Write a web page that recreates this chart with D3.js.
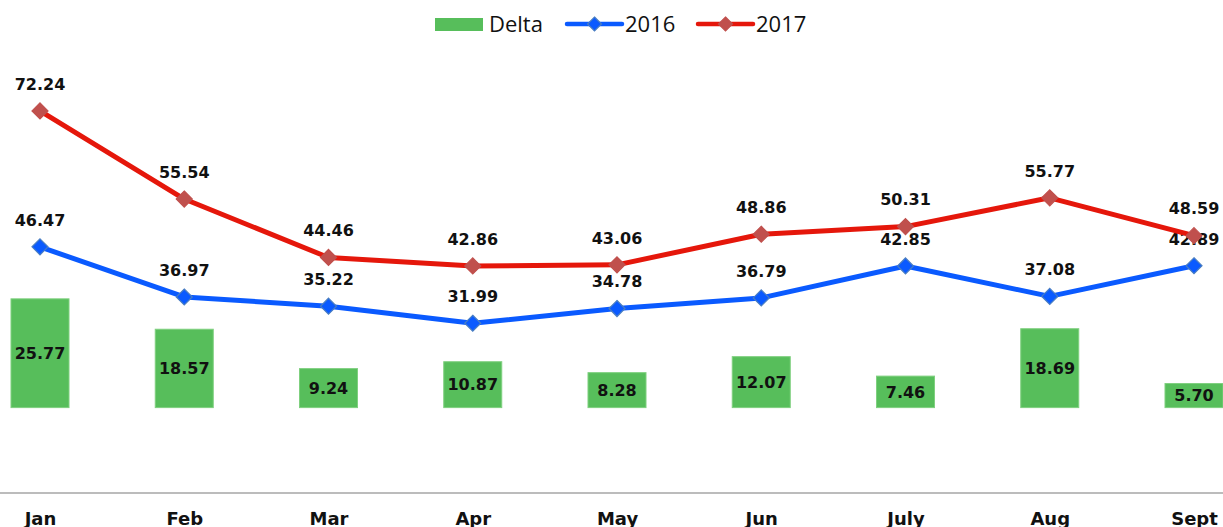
<!DOCTYPE html>
<html>
<head>
<meta charset="utf-8">
<script src="https://cdn.jsdelivr.net/npm/d3@7"></script>
<style>
  body { margin: 0; background: #fff; }
  svg { display: block; }
</style>
</head>
<body>
<div id="chart"></div>
<script>
// chart data
const months = ["Jan", "Feb", "Mar", "Apr", "May", "Jun", "July", "Aug", "Sept"];
const delta = [25.77, 18.57, 9.24, 10.87, 8.28, 12.07, 7.46, 18.69, 5.70];
const values2016 = [46.47, 36.97, 35.22, 31.99, 34.78, 36.79, 42.85, 37.08, 42.89];
const values2017 = [72.24, 55.54, 44.46, 42.86, 43.06, 48.86, 50.31, 55.77, 48.59];

const W = 1223, H = 527;
const green = "#57be5b", blue = "#0a5aff", red = "#e5170b";

const svg = d3.select("#chart").append("svg")
    .attr("width", W).attr("height", H);

// x: one point per month
const x = d3.scalePoint().domain(months).range([40, 1194]);

// primary axis for lines, secondary for the delta bars
const yLine = d3.scaleLinear().domain([0, 80]).range([492, 70]);
const yBar = d3.scaleLinear().domain([-20, 80]).range([492, 70]);

const barW = 58;
const labelFont = "'DejaVu Sans', Verdana, sans-serif";

// bars
svg.selectAll(".bar")
    .data(delta)
    .enter()
    .append("rect")
    .attr("class", "bar")
    .attr("x", (d, i) => x(months[i]) - barW / 2)
    .attr("y", d => yBar(d))
    .attr("width", barW)
    .attr("height", d => yBar(0) - yBar(d))
    .style("fill", green)
    .style("stroke", "#7fd07f")
    .style("stroke-width", 1);

svg.selectAll(".bar-label")
    .data(delta)
    .enter()
    .append("text")
    .attr("class", "bar-label")
    .text(d => d.toFixed(2))
    .attr("x", (d, i) => x(months[i]))
    .attr("y", d => (yBar(d) + yBar(0)) / 2)
    .attr("dy", "0.36em")
    .style("text-anchor", "middle")
    .style("font-family", labelFont)
    .style("font-weight", "bold")
    .style("font-size", "16px")
    .style("fill", "#111");

// category axis
const xAxis = svg.append("g")
    .attr("transform", `translate(0, ${493})`)
    .call(d3.axisBottom(x).tickSize(0).tickPadding(19));
xAxis.select(".domain").attr("d", `M0,0H${W}`).style("stroke", "#a6a6a6").style("stroke-width", 1.5);
xAxis.selectAll("text")
    .style("font-family", labelFont)
    .style("font-weight", "bold")
    .style("font-size", "18px")
    .style("fill", "#111");

const diamond = s => `M0,${-s}L${s},0L0,${s}L${-s},0Z`;

const series = [
    { name: "2016", values: values2016, color: blue, marker: "#0a5aff", markerStroke: "#4a7ec2" },
    { name: "2017", values: values2017, color: red, marker: "#c0504d", markerStroke: "#c0504d" }
];

const line = d3.line()
    .x((d, i) => x(months[i]))
    .y(d => yLine(d));

series.forEach(s => {
    svg.append("path")
        .datum(s.values)
        .attr("d", line)
        .style("fill", "none")
        .style("stroke", s.color)
        .style("stroke-width", 5)
        .style("stroke-linejoin", "round");

    svg.selectAll(".m" + s.name)
        .data(s.values)
        .enter()
        .append("path")
        .attr("d", diamond(8))
        .attr("transform", (d, i) => `translate(${x(months[i])}, ${yLine(d)})`)
        .style("fill", s.marker)
        .style("stroke", s.markerStroke)
        .style("stroke-width", 1.2);

    svg.selectAll(".l" + s.name)
        .data(s.values)
        .enter()
        .append("text")
        .text(d => d.toFixed(2))
        .attr("x", (d, i) => x(months[i]))
        .attr("y", d => yLine(d) - 27)
        .attr("dy", "0.36em")
        .style("text-anchor", "middle")
        .style("font-family", labelFont)
        .style("font-weight", "bold")
        .style("font-size", "16px")
        .style("fill", "#111");
});

// legend
const legend = svg.append("g");
const legendFont = "'Open Sans', sans-serif";

legend.append("rect")
    .attr("x", 435).attr("y", 18).attr("width", 48).attr("height", 13)
    .style("fill", green);
legend.append("text").text("Delta")
    .attr("x", 489).attr("y", 24).attr("dy", "0.36em")
    .style("font-family", legendFont).style("font-size", "22px").style("fill", "#111");

[{ s: series[0], x0: 567 }, { s: series[1], x0: 698 }].forEach(({ s, x0 }) => {
    legend.append("line")
        .attr("x1", x0).attr("x2", x0 + 55).attr("y1", 24).attr("y2", 24)
        .style("stroke", s.color).style("stroke-width", 4.5).style("stroke-linecap", "round");
    legend.append("path")
        .attr("d", diamond(7))
        .attr("transform", `translate(${x0 + 27.5}, 24)`)
        .style("fill", s.marker).style("stroke", s.markerStroke).style("stroke-width", 1.2);
    legend.append("text").text(s.name)
        .attr("x", x0 + 58).attr("y", 24).attr("dy", "0.36em")
        .style("font-family", legendFont).style("font-size", "22px").style("fill", "#111");
});
</script>
</body>
</html>
